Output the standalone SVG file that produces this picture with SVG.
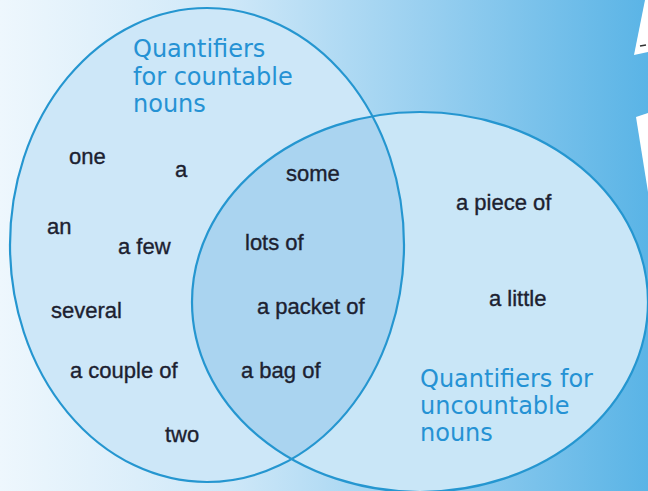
<svg xmlns="http://www.w3.org/2000/svg" width="648" height="491" viewBox="0 0 648 491">
<defs>
<linearGradient id="bg" x1="0" y1="0" x2="1" y2="0">
<stop offset="0" stop-color="#eef7fd"/>
<stop offset="0.35" stop-color="#cfe8f8"/>
<stop offset="0.65" stop-color="#9ad0f0"/>
<stop offset="1" stop-color="#5ab4e6"/>
</linearGradient>
<clipPath id="leftClip"><ellipse cx="207" cy="245" rx="197" ry="237"/></clipPath>
<style>
.ring{fill:none;stroke:#2596d0;stroke-width:2.2}
.w{font-family:"Liberation Sans",Arial,sans-serif;font-size:22px;fill:#1c2130;stroke:#1c2130;stroke-width:0.35}
.t{font-family:"Comic Sans MS","DejaVu Sans",sans-serif;font-size:24px;fill:#2592d4}
</style>
</defs>
<rect width="648" height="491" fill="url(#bg)"/>
<polygon points="645,0 648,0 648,52 634,55" fill="#ffffff"/>
<path d="M640,46 l6,-1" stroke="#333" stroke-width="1.5"/>
<polygon points="636,117 648,113 648,192" fill="#ffffff"/>
<g id="countable">
<ellipse cx="207" cy="245" rx="197" ry="237" fill="#cde7f8"/>
</g>
<g id="uncountable">
<ellipse cx="420" cy="302" rx="228" ry="190" fill="#c9e6f7"/>
</g>
<g id="both">
<ellipse cx="420" cy="302" rx="228" ry="190" fill="#aad4f0" clip-path="url(#leftClip)"/>
</g>
<g id="connectors">
<ellipse class="ring" cx="207" cy="245" rx="197" ry="237"/>
<ellipse class="ring" cx="420" cy="302" rx="228" ry="190"/>
</g>
<g id="labels-countable">
<text class="t" x="133" y="57">Quantifiers</text>
<text class="t" x="133" y="85">for countable</text>
<text class="t" x="133" y="112">nouns</text>
<text class="w" x="69" y="164">one</text>
<text class="w" x="175" y="177">a</text>
<text class="w" x="47" y="234">an</text>
<text class="w" x="118" y="254">a few</text>
<text class="w" x="51" y="318">several</text>
<text class="w" x="70" y="378">a couple of</text>
<text class="w" x="165" y="442">two</text>
</g>
<g id="labels-both">
<text class="w" x="286" y="181">some</text>
<text class="w" x="245" y="250">lots of</text>
<text class="w" x="257" y="314">a packet of</text>
<text class="w" x="241" y="378">a bag of</text>
</g>
<g id="labels-uncountable">
<text class="w" x="456" y="210">a piece of</text>
<text class="w" x="489" y="306">a little</text>
<text class="t" x="420" y="387">Quantifiers for</text>
<text class="t" x="420" y="414">uncountable</text>
<text class="t" x="420" y="441">nouns</text>
</g>
</svg>
